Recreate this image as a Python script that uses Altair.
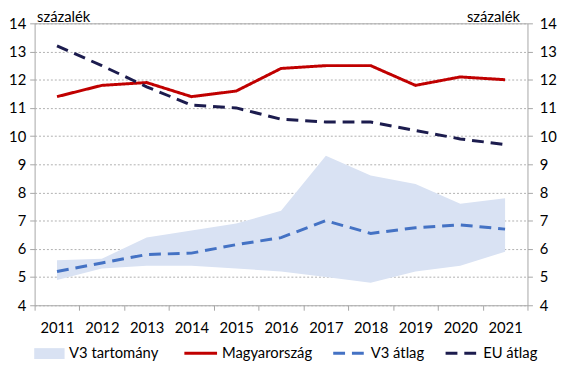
import altair as alt
import pandas as pd

years = [str(y) for y in range(2011, 2022)]
hu = [11.4, 11.8, 11.9, 11.4, 11.6, 12.4, 12.5, 12.5, 11.8, 12.1, 12.0]
eu = [13.2, 12.5, 11.75, 11.1, 11.0, 10.6, 10.5, 10.5, 10.2, 9.9, 9.7]
v3_avg = [5.2, 5.5, 5.8, 5.85, 6.15, 6.4, 7.0, 6.55, 6.75, 6.85, 6.7]
v3_low = [4.9, 5.3, 5.4, 5.4, 5.3, 5.2, 5.0, 4.8, 5.2, 5.4, 5.9]
v3_high = [5.6, 5.65, 6.4, 6.65, 6.9, 7.35, 9.3, 8.6, 8.3, 7.6, 7.8]

series_names = ["Magyarország", "V3 átlag", "EU átlag"]
series_colors = ["#C00000", "#4472C4", "#1C1C4E"]
range_name = "V3 tartomány"

FONT = "Lato"
FS = 15

band_df = pd.DataFrame({"year": years, "low": v3_low, "high": v3_high, "label": range_name})
line_df = pd.concat([
    pd.DataFrame({"year": years, "value": vals, "series": name, "order": i})
    for i, (name, vals) in enumerate(zip(series_names, [hu, v3_avg, eu]))
])

xenc = alt.X(
    "year:O",
    bandPosition=0.5,
    scale=alt.Scale(type="band", paddingInner=0, paddingOuter=0),
    axis=alt.Axis(title=None, labelAngle=0, tickBand="extent", tickSize=5,
                  labelPadding=11, tickColor="#a6a6a6", domain=False, grid=False),
)
yscale = alt.Scale(domain=[4, 14], nice=False, zero=False)
ticks = list(range(4, 15))

line_legend = alt.Legend(orient="none", legendX=150, legendY=316, title=None,
                         direction="horizontal", symbolType="stroke",
                         symbolSize=1100, symbolStrokeWidth=3,
                         labelOffset=3, columnPadding=14)

area = alt.Chart(band_df).mark_area(color="#D9E2F3", opacity=1).encode(
    x=xenc,
    y=alt.Y("low:Q", scale=yscale, axis=alt.Axis(
        values=ticks, title="százalék", titleAngle=0, titleAlign="left",
        titleBaseline="alphabetic", titleX=2, titleY=-2, grid=True,
        gridDash=[2, 2], gridColor="#b0b0b0", tickSize=5, tickColor="#a6a6a6",
        labelPadding=4, domain=False, titleFontWeight="normal")),
    y2="high:Q",
    fill=alt.Fill("label:N", scale=alt.Scale(range=["#D9E2F3"]), legend=alt.Legend(
        orient="none", legendX=4, legendY=324, title=None,
        symbolType="M-1.4,-0.5H1.4V0.5H-1.4Z", symbolSize=484,
        symbolStrokeWidth=0, labelOffset=9)),
)

lines = alt.Chart(line_df).mark_line(strokeWidth=3).encode(
    x=xenc,
    y=alt.Y("value:Q", scale=yscale, axis=alt.Axis(
        orient="right", values=ticks, title="százalék", titleAngle=0,
        titleAlign="right", titleBaseline="alphabetic", titleX=-8, titleY=-2,
        grid=False, tickSize=5, tickColor="#a6a6a6", labelPadding=7,
        domain=False, titleFontWeight="normal")),
    color=alt.Color("series:N", scale=alt.Scale(domain=series_names, range=series_colors),
                    legend=line_legend),
    strokeDash=alt.StrokeDash("series:N", scale=alt.Scale(
        domain=series_names, range=[[1, 0], [12, 7], [12, 7]]), legend=line_legend),
    order=alt.Order("order:Q", sort="descending"),
    detail="series:N",
)

chart = alt.layer(area, lines).resolve_scale(y="independent").properties(
    width=500, height=286,
    padding={"left": 27, "top": 13, "right": 34, "bottom": 56},
    autosize=alt.AutoSizeParams(type="none"),
).configure_view(stroke="#a6a6a6", strokeWidth=1).configure_axis(
    labelFont=FONT, labelFontSize=FS, labelColor="#000",
    titleFont=FONT, titleFontSize=FS, titleColor="#000",
).configure_legend(
    labelFont=FONT, labelFontSize=FS, labelColor="#000",
)

chart.save("out.html", embed_options={"renderer": "svg", "actions": False})
